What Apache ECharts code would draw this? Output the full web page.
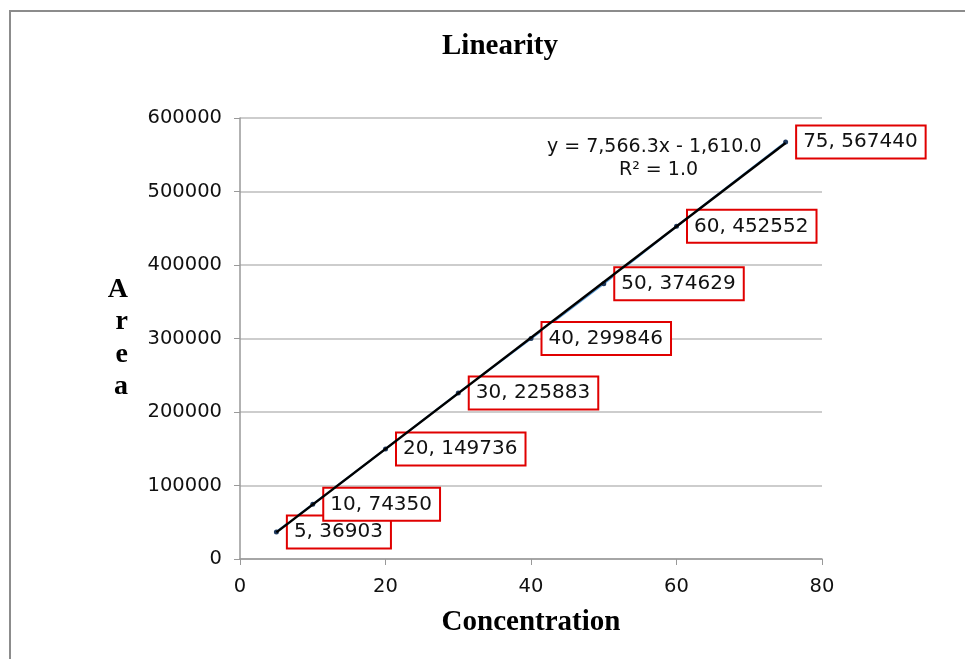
<!DOCTYPE html>
<html>
<head>
<meta charset="utf-8">
<script src="https://cdn.jsdelivr.net/npm/echarts@6/dist/echarts.min.js"></script>
<style>html,body{margin:0;padding:0;background:#fff}#c{width:965px;height:659px}</style>
</head>
<body>
<div id="c"></div>
<script>
var concentration = [5, 10, 20, 30, 40, 50, 60, 75];
var area = [36903, 74350, 149736, 225883, 299846, 374629, 452552, 567440];
var trendX = [5, 75];
var trendY = [36222, 565863];
var xTicks = [0, 20, 40, 60, 80];
var yTicks = [0, 100000, 200000, 300000, 400000, 500000, 600000];
var equationText = ['y = 7,566.3x - 1,610.0', 'R\u00B2 = 1.0'];

var chart = echarts.init(document.getElementById('c'));
var pts = concentration.map(function (x, i) { return [x, area[i]]; });
var trend = trendX.map(function (x, i) { return [x, trendY[i]]; });

chart.setOption({
  animation: false,
  backgroundColor: '#fff',
  title: {
    text: 'Linearity', left: 437, top: 27,
    textStyle: { fontFamily: 'Liberation Serif', fontWeight: 'bold', fontSize: 29, color: '#000' }
  },
  grid: { left: 240, right: 143, top: 118, bottom: 100 },
  xAxis: {
    type: 'value', min: xTicks[0], max: xTicks[xTicks.length - 1], interval: 20,
    name: 'Concentration', nameLocation: 'middle', nameGap: 49,
    nameTextStyle: { fontFamily: 'Liberation Serif', fontWeight: 'bold', fontSize: 29, color: '#000' },
    axisLine: { show: true, lineStyle: { color: '#999', width: 1.5 } },
    axisTick: { show: true, length: 6, lineStyle: { color: '#999' } },
    axisLabel: { fontFamily: 'DejaVu Sans', fontSize: 19.5, color: '#111', margin: 18 },
    splitLine: { show: false }
  },
  yAxis: {
    type: 'value', min: yTicks[0], max: yTicks[yTicks.length - 1], interval: 100000,
    name: 'A\nr\ne\na', nameLocation: 'middle', nameRotate: 0, nameGap: 112,
    nameTextStyle: { fontFamily: 'Liberation Serif', fontWeight: 'bold', fontSize: 28, lineHeight: 32.5, color: '#000', padding: [8, 0, 0, 0] },
    axisLine: { show: true, lineStyle: { color: '#999', width: 1.5 } },
    axisTick: { show: true, length: 6, lineStyle: { color: '#999' } },
    axisLabel: { fontFamily: 'DejaVu Sans', fontSize: 19.5, color: '#111', margin: 18,
      formatter: function (v) { return String(v); } },
    splitLine: { show: true, lineStyle: { color: '#bdbdbd', width: 1.5 } }
  },
  series: [
    {
      type: 'line', data: pts, z: 2,
      symbol: 'circle', symbolSize: 5,
      itemStyle: { color: '#1f3a5f' },
      lineStyle: { color: '#5b9bd5', width: 2 },
      label: {
        show: true, position: 'right', distance: 9,
        formatter: function (p) { return p.value[0] + ', ' + p.value[1]; },
        fontFamily: 'DejaVu Sans', fontSize: 20, color: '#111',
        backgroundColor: '#fff', borderColor: '#e00000', borderWidth: 2,
        padding: [6, 7, 5, 6]
      }
    },
    {
      type: 'line', data: trend, z: 3, symbol: 'none',
      lineStyle: { color: '#000', width: 2.5 }, silent: true
    }
  ],
  graphic: [
    { type: 'rect', shape: { x: 10, y: 11, width: 1000, height: 700 },
      style: { fill: 'none', stroke: '#8c8c8c', lineWidth: 2 }, z: -1 },
    { type: 'text', left: 547, top: 138,
      style: { text: equationText[0], font: '19px "DejaVu Sans"', fill: '#111' } },
    { type: 'text', left: 619, top: 161,
      style: { text: equationText[1], font: '19px "DejaVu Sans"', fill: '#111' } }
  ]
});
</script>
</body>
</html>
